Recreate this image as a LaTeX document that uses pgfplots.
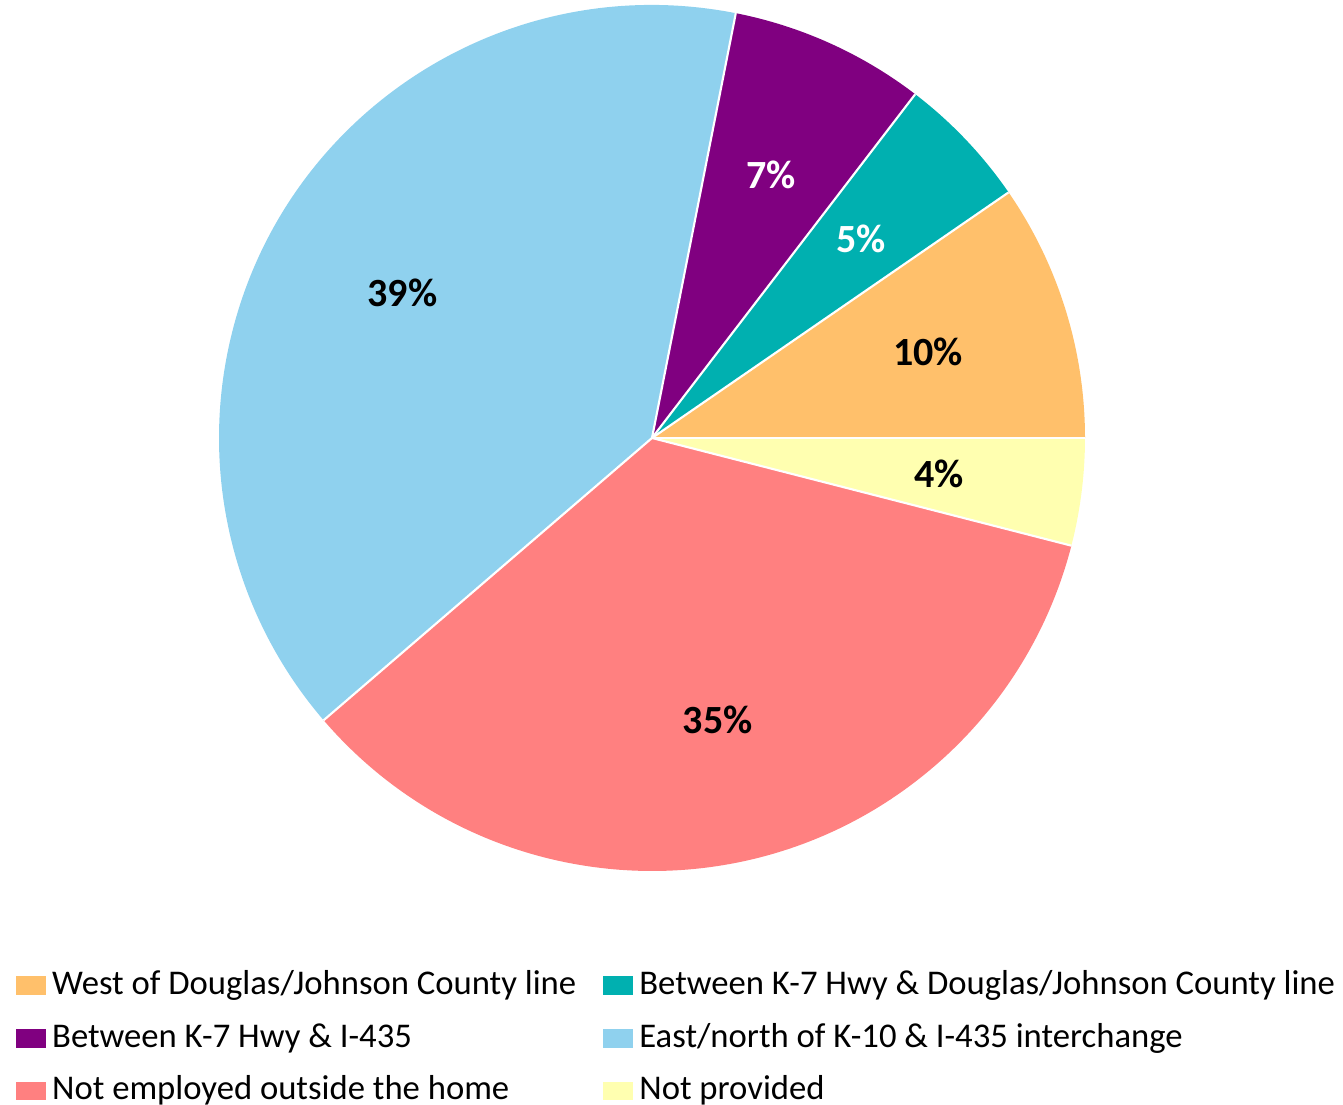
\documentclass[border=0pt]{standalone}
\usepackage{pgfplots}
\pgfplotsset{compat=1.18}
\usepackage{fontspec}
\setmainfont{Carlito}
\definecolor{cwest}{RGB}{255,192,107}
\definecolor{cteal}{RGB}{0,176,176}
\definecolor{cpurple}{RGB}{128,0,128}
\definecolor{cblue}{RGB}{143,209,238}
\definecolor{csalmon}{RGB}{255,128,128}
\definecolor{cyellow}{RGB}{255,255,176}
% slice: start %, end %, colour
\newcommand{\slicefill}[3]{%
  \fill[#3] (axis cs:652,666) -- (axis cs:{652+433*cos(3.6*(#1))},{666+433*sin(3.6*(#1))})
    arc[start angle={3.6*(#1)}, end angle={3.6*(#2)}, radius=324.75pt] -- cycle;}
\newcommand{\sliceline}[1]{%
  \draw[white, line width=1.6pt] (axis cs:652,666) -- (axis cs:{652+433*cos(3.6*(#1))},{666+433*sin(3.6*(#1))});}
\newcommand{\slicelabel}[4]{%
  \node[font=\fontsize{30}{36}\selectfont\bfseries, text=#4] at (axis cs:{652+289*cos(1.8*(#1+#2))},{666+289*sin(1.8*(#1+#2))}) {#3};}
\begin{document}
\begin{tikzpicture}
\begin{axis}[
  width=1007.25pt, height=828pt, scale only axis,
  xmin=0, xmax=1343, ymin=0, ymax=1104,
  hide axis, clip=false,
  legend columns=2,
  legend cell align=left,
  legend image code/.code={\fill[#1, draw=none] (0pt,-7pt) rectangle (22.5pt,7pt);},
  legend style={draw=none, fill=none, at={(axis cs:15.5,1104-969)}, anchor=north west,
    inner sep=0pt, outer sep=0pt,
    font=\fontsize{26}{31}\selectfont,
    nodes={inner xsep=5pt, inner ysep=0pt, text height=19pt, text depth=6pt},
    row sep=14.5pt,
    /tikz/every even column/.append style={column sep=14.75pt}},
]
\coordinate (bl) at (rel axis cs:0,0);
\coordinate (tr) at (rel axis cs:1,1);
% values (percent): 9.6, 5.0, 7.3, 39.4, 34.7, 4.0
\slicefill{0}{9.6}{cwest}
\slicefill{9.6}{14.6}{cteal}
\slicefill{14.6}{21.9}{cpurple}
\slicefill{21.9}{61.3}{cblue}
\slicefill{61.3}{96.0}{csalmon}
\slicefill{96.0}{100}{cyellow}
\sliceline{0}\sliceline{9.6}\sliceline{14.6}\sliceline{21.9}\sliceline{61.3}\sliceline{96.0}
\slicelabel{0}{9.6}{10\%}{black}
\slicelabel{9.6}{14.6}{5\%}{white}
\slicelabel{14.6}{21.9}{7\%}{white}
\slicelabel{21.9}{61.3}{39\%}{black}
\slicelabel{61.3}{96.0}{35\%}{black}
\slicelabel{96.0}{100}{4\%}{black}
\addlegendimage{fill=cwest}\addlegendentry{West of Douglas/Johnson County line}
\addlegendimage{fill=cteal}\addlegendentry{Between K-7 Hwy \& Douglas/Johnson County line}
\addlegendimage{fill=cpurple}\addlegendentry{Between K-7 Hwy \& I-435}
\addlegendimage{fill=cblue}\addlegendentry{East/north of K-10 \& I-435 interchange}
\addlegendimage{fill=csalmon}\addlegendentry{Not employed outside the home}
\addlegendimage{fill=cyellow}\addlegendentry{Not provided}
\end{axis}
\pgfresetboundingbox
\useasboundingbox (bl) rectangle (tr);
\end{tikzpicture}
\end{document}
